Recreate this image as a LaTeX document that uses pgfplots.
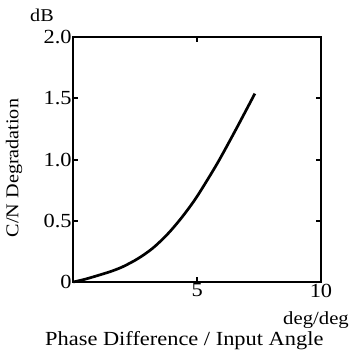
\documentclass[border=0pt]{standalone}
\usepackage{fontspec}
\setmainfont{Liberation Serif}[FakeStretch=1.12]
\usepackage{pgfplots}
\pgfplotsset{compat=1.18}
\begin{document}
\begin{tikzpicture}[x=1pt,y=1pt]
\useasboundingbox (0,0) rectangle (349,357);
\begin{axis}[
  at={(73.3pt,75pt)}, anchor=south west,
  scale only axis, width=247.7pt, height=244.7pt,
  xmin=0, xmax=10, ymin=0, ymax=2,
  xtick={5,10}, xticklabels={5,10},
  ytick={0,0.5,1,1.5,2}, yticklabels={0,0.5,1.0,1.5,2.0},
  tick align=inside, major tick length=5pt,
  axis line style={line width=2.3pt},
  tick style={line width=2pt, black},
  ticklabel style={font=\fontsize{20}{22}\selectfont, inner sep=1.5pt},
  /pgf/number format/assume math mode=true,
  clip=false,
]
\addplot[line width=2.7pt, smooth, black] coordinates {
  (0,0) (0.5,0.024) (1.2,0.066) (1.5,0.085) (2.0,0.125) (2.6,0.19) (3.2,0.275) (3.8,0.39) (4.35,0.52) (4.9,0.67) (5.4,0.83) (5.9,1.0) (6.6,1.26) (7.33,1.54)
};
\end{axis}
\node[font=\fontsize{18}{20}\selectfont, anchor=base west, inner sep=0pt] at (30,335) {dB};
\node[font=\fontsize{18.5}{20}\selectfont, anchor=base east, inner sep=0pt] at (349,32) {deg/deg};
\node[font=\fontsize{20}{22}\selectfont, anchor=base west, inner sep=0pt] at (45,12) {Phase Difference / Input Angle};
\node[font=\fontsize{18}{20}\selectfont, rotate=90, anchor=center] at (14,189) {C/N Degradation};
\end{tikzpicture}
\end{document}
